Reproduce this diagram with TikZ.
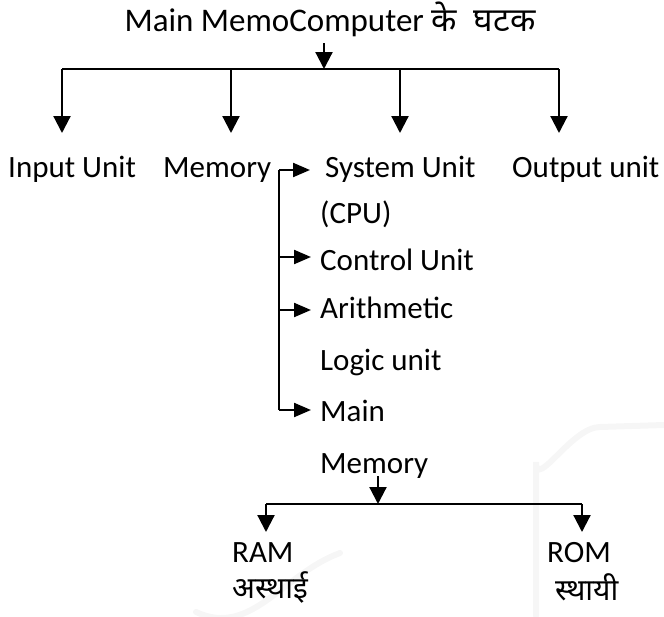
\documentclass[tikz,border=0pt]{standalone}
\usepackage{fontspec}
\setmainfont{Carlito}
\newfontfamily\hindi[Script=Devanagari]{Noto Sans}
\usetikzlibrary{arrows.meta}
\begin{document}
\begin{tikzpicture}[x=1pt,y=-1pt,
  lbl/.style={inner sep=0pt, anchor=base west, font=\fontsize{31}{36}\selectfont},
  hin/.style={inner sep=0pt, anchor=base west, font=\hindi\fontsize{30}{34}\selectfont},
  arr/.style={line width=2.2pt, -{Triangle[width=17pt,length=17pt]}},
  tarr/.style={line width=2.2pt, -{Triangle[width=14pt,length=17pt]}},
  bar/.style={line width=1.4pt},
  trunk/.style={line width=1.3pt},
  faint/.style={line width=6pt, gray!7, line cap=round}]
\useasboundingbox (0,0) rectangle (664,616);

% faint background marks
\draw[faint] (536,616) -- (536,462) to[out=-90,in=180] (600,427) -- (664,425);
\draw[faint] (196,612) to[out=-25,in=200] (340,553);

% title and first level
\node[inner sep=0pt, anchor=base, font=\fontsize{33}{38}\selectfont] (title) at (330,31)
  {Main MemoComputer {\hindi के\ \ घटक}};
\coordinate (j0) at (324,69);
\coordinate (b1) at (62,69);
\coordinate (b2) at (231,69);
\coordinate (b3) at (400,69);
\coordinate (b4) at (559,69);
\draw[arr] (324,43) -- (j0);
\draw[bar] (b1) -- (b4);

\node[lbl] (input) at (8,177) {Input Unit};
\node[lbl] (memory) at (163,177) {Memory};
\node[lbl] (system) at (325,177) {System Unit};
\node[lbl] (output) at (512,177) {Output unit};

\draw[arr] (b1) -- ++(0,64);
\draw[arr] (b2) -- ++(0,64);
\draw[arr] (b3) -- ++(0,64);
\draw[arr] (b4) -- ++(0,64);

% parts of the system unit
\node[lbl] (cpu) at (320,223) {(CPU)};
\node[lbl] (cu) at (320,270) {Control Unit};
\node[lbl] (alu) at (320,318) {Arithmetic};
\node[lbl] (alu2) at (320,370) {Logic unit};
\node[lbl] (mm) at (320,421) {Main};
\node[lbl] (mm2) at (320,473) {Memory};

\coordinate (t0) at (279,170);
\coordinate (t1) at (279,257);
\coordinate (t2) at (279,310);
\coordinate (t3) at (279,410);
\draw[trunk] (t0) -- (t3);
\draw[tarr] (t0) -- (310,170);
\draw[tarr] (t1) -- (311,257);
\draw[tarr] (t2) -- (311,310);
\draw[tarr] (t3) -- (311,410);

% main memory split
\coordinate (j1) at (378,504);
\coordinate (c1) at (266,504);
\coordinate (c2) at (582,504);
\draw[arr] (378,476) -- (j1);
\draw[bar] (c1) -- (c2);
\draw[arr] (c1) -- ++(0,28);
\draw[arr] (c2) -- ++(0,28);

\node[lbl] (ram) at (232,562) {RAM};
\node[lbl] (rom) at (547,562) {ROM};
\node[hin] (ramh) at (232,598) {अस्थाई};
\node[hin] (romh) at (555,600) {स्थायी};
\end{tikzpicture}
\end{document}
